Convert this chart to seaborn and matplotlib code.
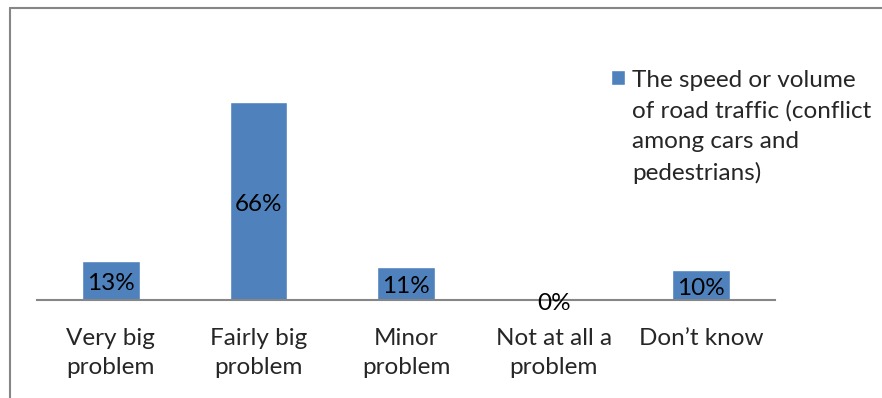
import matplotlib
matplotlib.use("Agg")
import matplotlib.pyplot as plt
import seaborn as sns
import pandas as pd
from matplotlib.lines import Line2D

# chart data
categories = ["Very big\nproblem", "Fairly big\nproblem", "Minor\nproblem",
              "Not at all a\nproblem", "Don\u2019t know"]
values = [13, 66, 11, 0, 10]
value_labels = ["13%", "66%", "11%", "0%", "10%"]
series_name = "The speed or volume\nof road traffic (conflict\namong cars and\npedestrians)"

bar_color = "#4F81BD"
gray = "#868686"
fs = 17.5

sns.set_style("white")
plt.rcParams["font.family"] = ["Lato", "DejaVu Sans"]

df = pd.DataFrame({"category": categories, "value": values, "series": series_name})

fig = plt.figure(figsize=(8.82, 3.98), dpi=100)
ax = fig.add_axes([37 / 882, 1 - 300 / 398, (775 - 37) / 882, (300 - 90) / 398])

sns.barplot(data=df, x="category", y="value", hue="series", palette=[bar_color],
            width=0.39, ax=ax, saturation=1)

ax.set_ylim(0, 70)
ax.set_xlim(-0.5, len(categories) - 0.5)
for c in ax.containers:
    texts = ax.bar_label(c, labels=value_labels, label_type="center", fontsize=fs, color="black")
    for t in texts:
        # nudge slightly down, like the original renderer
        t.xyann = (0, -2.2)

for s in ["top", "right", "left"]:
    ax.spines[s].set_visible(False)
ax.spines["bottom"].set_color(gray)
ax.spines["bottom"].set_linewidth(1.5)
ax.set_yticks([])
ax.set_xlabel("")
ax.set_ylabel("")
ax.set_xticks(range(len(categories)), categories, linespacing=1.5,
              multialignment="center", fontsize=fs)
ax.tick_params(axis="x", which="major", length=0, pad=20)
ax.set_xticks([i - 0.5 for i in range(len(categories) + 1)], minor=True)
ax.tick_params(axis="x", which="minor", length=6.5, width=1.2, color=gray, direction="out")

ax.get_legend().remove()
handles, labels = ax.get_legend_handles_labels()
leg = fig.legend(handles, labels, loc="upper left", bbox_to_anchor=(589 / 882, 1 - 48 / 398),
                 frameon=False, fontsize=fs, handlelength=0.58, handleheight=0.58,
                 handletextpad=0.3, labelspacing=0.2)
for t in leg.get_texts():
    t.set_linespacing(1.55)
for col in leg._legend_handle_box.get_children():
    for item in col.get_children():
        item.align = "top"

# outer chart frame (left and top edges visible)
fig.add_artist(Line2D([10 / 882, 10 / 882], [0, 1 - 7.5 / 398], color=gray, lw=1.5,
                      transform=fig.transFigure))
fig.add_artist(Line2D([10 / 882, 1], [1 - 7.5 / 398, 1 - 7.5 / 398], color=gray, lw=1.5,
                      transform=fig.transFigure))

fig.savefig("out.png", dpi=100)
